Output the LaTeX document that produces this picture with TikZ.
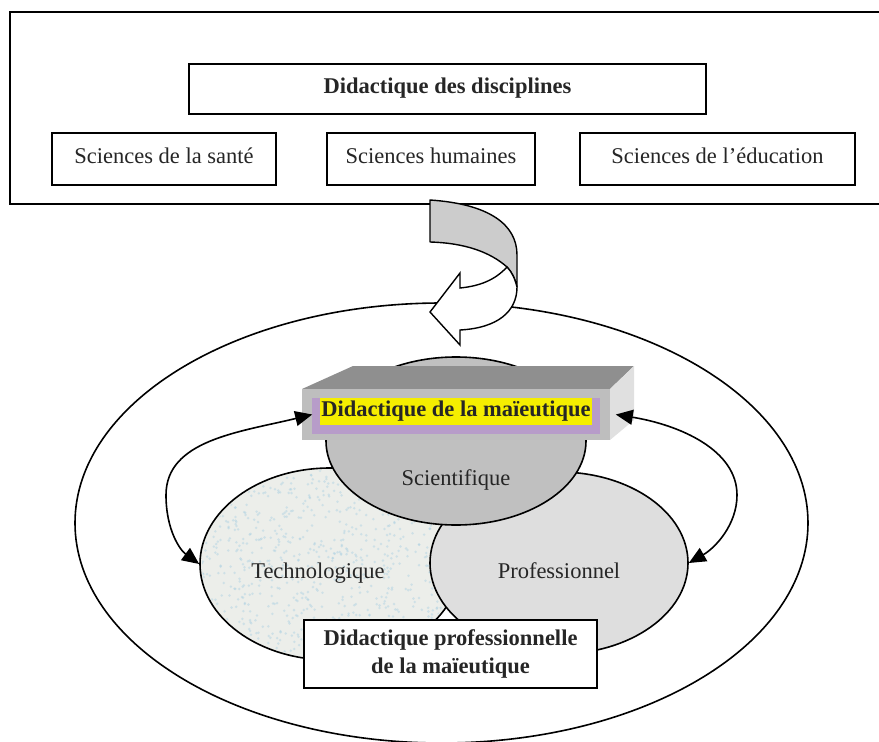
\documentclass[tikz,border=0pt]{standalone}
\usepackage{fontspec}
\setmainfont{Liberation Serif}
\usetikzlibrary{arrows.meta,shapes.geometric}
\definecolor{scigray}{RGB}{192,192,192}
\definecolor{progray}{RGB}{222,222,222}
\definecolor{techbase}{RGB}{236,238,234}
\definecolor{techspeck}{RGB}{170,208,226}
\definecolor{topface}{RGB}{143,143,143}
\definecolor{frontface}{RGB}{190,190,190}
\definecolor{sideface}{RGB}{224,224,224}
\definecolor{lilac}{RGB}{183,156,201}
\definecolor{hlyellow}{RGB}{245,238,0}
\definecolor{bandgray}{RGB}{204,204,204}
\definecolor{txt}{RGB}{38,38,38}
\begin{document}
\begin{tikzpicture}[x=1pt,y=-1pt, line width=1.6pt,
  box/.style={draw, fill=white, rectangle, inner sep=0pt, font=\fontsize{22.5}{27}\selectfont, text=txt, text height=0.95em, text depth=0em},
  boldbox/.style={draw, fill=white, rectangle, inner sep=0pt, font=\fontsize{22.5}{28}\selectfont\bfseries, text=txt, align=center},
  oval/.style={draw, ellipse, inner sep=0pt},
  lbl/.style={anchor=base, font=\fontsize{22.5}{27}\selectfont, text=txt, inner sep=0pt},
  dbl/.style={{Triangle[length=17pt,width=15pt]}-{Triangle[length=17pt,width=15pt]}, line width=1.6pt}
]
\useasboundingbox (0,0) rectangle (879,742);
\clip (0,0) rectangle (879,742);

% top frame
\draw (890,12) -- (10,12) -- (10,204) -- (890,204);
\node[box, font=\fontsize{22.5}{27}\selectfont\bfseries, minimum width=517pt, minimum height=50pt] (dd) at (447.5,89) {Didactique des disciplines};
\node[box, minimum width=224pt, minimum height=52pt] (sante) at (164,159) {Sciences de la santé};
\node[box, minimum width=208pt, minimum height=52pt] (hum) at (431,159) {Sciences humaines};
\node[box, minimum width=275pt, minimum height=52pt] (edu) at (717.5,159) {Sciences de l’éducation};

% outer ellipse
\node[oval, minimum width=733pt, minimum height=440pt] (outer) at (441.5,523) {};

% big curved arrow
\filldraw[fill=bandgray, line width=1.4pt, line join=round] (430,200) .. controls (490,204) and (517,225) .. (517,255) -- (517,287) .. controls (515,279) and (512,272) .. (507,267) .. controls (490,252) and (465,243) .. (430,242) -- cycle;
\filldraw[fill=white, line width=1.4pt, line join=miter] (507,267) .. controls (495,280) and (480,286) .. (460,288) -- (460,273) -- (430,312) -- (460,345) -- (460,330) .. controls (497,328) and (517,312) .. (517,287) .. controls (515,279) and (512,272) .. (507,267) -- cycle;

% three ellipses
\node[oval, fill=techbase, minimum width=260pt, minimum height=192pt] (tech) at (330,564) {};
\begin{scope}
  \clip (330,564) ellipse [x radius=128pt, y radius=94pt];
  \pgfmathsetseed{7}
  \foreach \i in {1,...,900}{\fill[techspeck, opacity=0.45] ({200+260*rnd},{468+192*rnd}) circle (1.4pt);}
\end{scope}
\node[oval, fill=progray, minimum width=258pt, minimum height=182pt] (prof) at (559,563) {};
\node[oval, fill=scigray, minimum width=260pt, minimum height=168pt] (sci) at (456,441) {};

\node[lbl] (tsci) at (456,485) {Scientifique};
\node[lbl] (ttech) at (318,578) {Technologique};
\node[lbl] (tprof) at (559,578) {Professionnel};

% 3D box
\fill[topface] (302,389) -- (353,366) -- (634,366) -- (610,389) -- cycle;
\fill[sideface] (610,389) -- (634,366) -- (634,420) -- (610,440) -- cycle;
\node[fill=frontface, minimum width=308pt, minimum height=51pt, inner sep=0pt] (maie) at (456,414.5) {};
\node[fill=lilac, minimum width=288pt, minimum height=36pt, inner sep=0pt] (lil) at (456,416) {};
\node[fill=hlyellow, minimum width=272pt, minimum height=27pt, inner sep=0pt, font=\fontsize{22.5}{27}\selectfont\bfseries, text=txt, text height=0.95em, text depth=0em] (hl) at (456,411.5) {Didactique de la maïeutique};

% double arrows
\draw[dbl] ([xshift=11pt]maie.west) .. controls (240,432) and (166,440) .. (166,495) .. controls (166,530) and (180,550) .. (tech.west);
\draw[dbl] ([xshift=5pt]maie.east) .. controls (680,425) and (737,450) .. (737,495) .. controls (737,525) and (715,548) .. (prof.east);

% bottom box
\node[boldbox, minimum width=293pt, minimum height=68pt] (dpm) at (450.5,654) {Didactique professionnelle\\de la maïeutique};
\end{tikzpicture}
\end{document}
